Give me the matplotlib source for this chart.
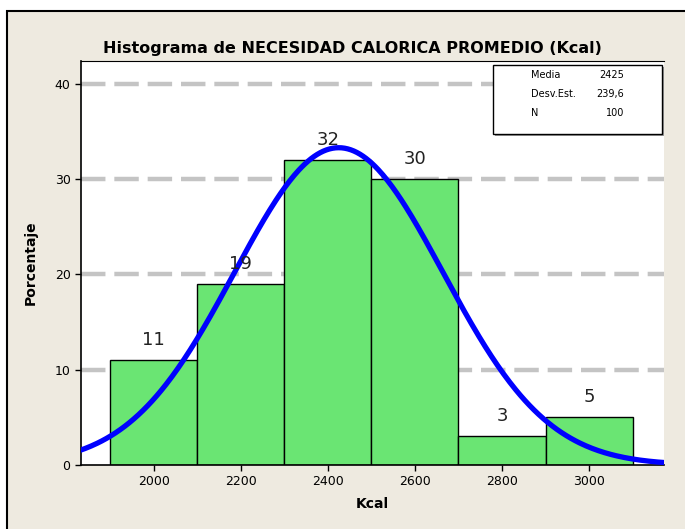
import numpy as np
import matplotlib.pyplot as plt
from matplotlib.patches import Rectangle

# histogram data (percent per bin)
bin_edges = [1900, 2100, 2300, 2500, 2700, 2900, 3100]
percent = [11, 19, 32, 30, 3, 5]

# summary stats shown in the box
media = 2425
desv = 239.6
n_obs = 100
stat_labels = ["Media", "Desv.Est.", "N"]
stat_values = ["2425", "239,6", "100"]

x_ticks = [2000, 2200, 2400, 2600, 2800, 3000]
y_ticks = [0, 10, 20, 30, 40]

fig = plt.figure(figsize=(6.85, 5.29), dpi=100)
fig.patch.set_facecolor("white")

# beige panel with black border (top/left)
W, H = 685, 529
panel = Rectangle((7 / W, -0.1), 1.2, 1 - 11 / H + 0.1, transform=fig.transFigure,
                  facecolor="#eeeae0", edgecolor="black", lw=1.5, zorder=-1)
fig.patches.append(panel)

ax = fig.add_axes([81 / W, 1 - 465 / H, (664 - 81) / W, (465 - 61) / H])
ax.set_facecolor("white")
ax.set_zorder(1)

# dashed grid
for y in y_ticks[1:]:
    ax.axhline(y, color="#c4c4c4", lw=3.2, ls=(0, (5.5, 2)), zorder=1)

widths = np.diff(bin_edges)
lefts = np.array(bin_edges[:-1])
ax.bar(lefts, percent, width=widths, align="edge", color="#6ae573",
       edgecolor="black", lw=1, zorder=2)

for l, w, p in zip(lefts, widths, percent):
    ax.text(l + w / 2, p + 1.2, str(p), ha="center", va="bottom",
            fontsize=13, color="#222222", zorder=4)

# fitted normal curve, scaled to percent per bin
xs = np.linspace(1800, 3200, 400)
bw = 200
ys = 100 * bw / (desv * np.sqrt(2 * np.pi)) * np.exp(-0.5 * ((xs - media) / desv) ** 2)
ax.plot(xs, ys, color="#0000ff", lw=3.8, zorder=3, solid_capstyle="butt")

ax.set_xlim(1833, 3172)
ax.set_ylim(0, 42.4)
ax.set_xticks(x_ticks)
ax.set_yticks(y_ticks)
ax.tick_params(direction="out", length=4, width=1, labelsize=9, colors="black")
for s in ["left", "bottom", "top"]:
    ax.spines[s].set_color("black")
    ax.spines[s].set_linewidth(1.2)
ax.spines["right"].set_visible(False)
ax.spines["top"].set_linewidth(0.8)

ax.set_xlabel("Kcal", fontsize=10, fontweight="bold", labelpad=6)
ax.set_ylabel("Porcentaje", fontsize=10, fontweight="bold", labelpad=12)

fig.text(352 / W, 1 - 48 / H, "Histograma de NECESIDAD CALORICA PROMEDIO (Kcal)",
         ha="center", va="center", fontsize=11.5, fontweight="bold")

# stats box with a small shadow
bx0, by0, bx1, by1 = 493, 65, 662, 134
shadow = Rectangle(((bx0 + 2) / W, 1 - (by1 + 2) / H), (bx1 - bx0) / W, (by1 - by0) / H,
                   transform=fig.transFigure, facecolor="#9a9a9a", edgecolor="none", zorder=5)
box = Rectangle((bx0 / W, 1 - by1 / H), (bx1 - bx0) / W, (by1 - by0) / H,
                transform=fig.transFigure, facecolor="white", edgecolor="black", lw=1, zorder=6)
fig.patches.extend([shadow, box])
for i, (lab, val) in enumerate(zip(stat_labels, stat_values)):
    yy = 1 - (75 + 19 * i) / H
    fig.text(531 / W, yy, lab, ha="left", va="center", fontsize=7, zorder=7)
    fig.text(624 / W, yy, val, ha="right", va="center", fontsize=7, zorder=7)

fig.savefig("out.png", dpi=100)
